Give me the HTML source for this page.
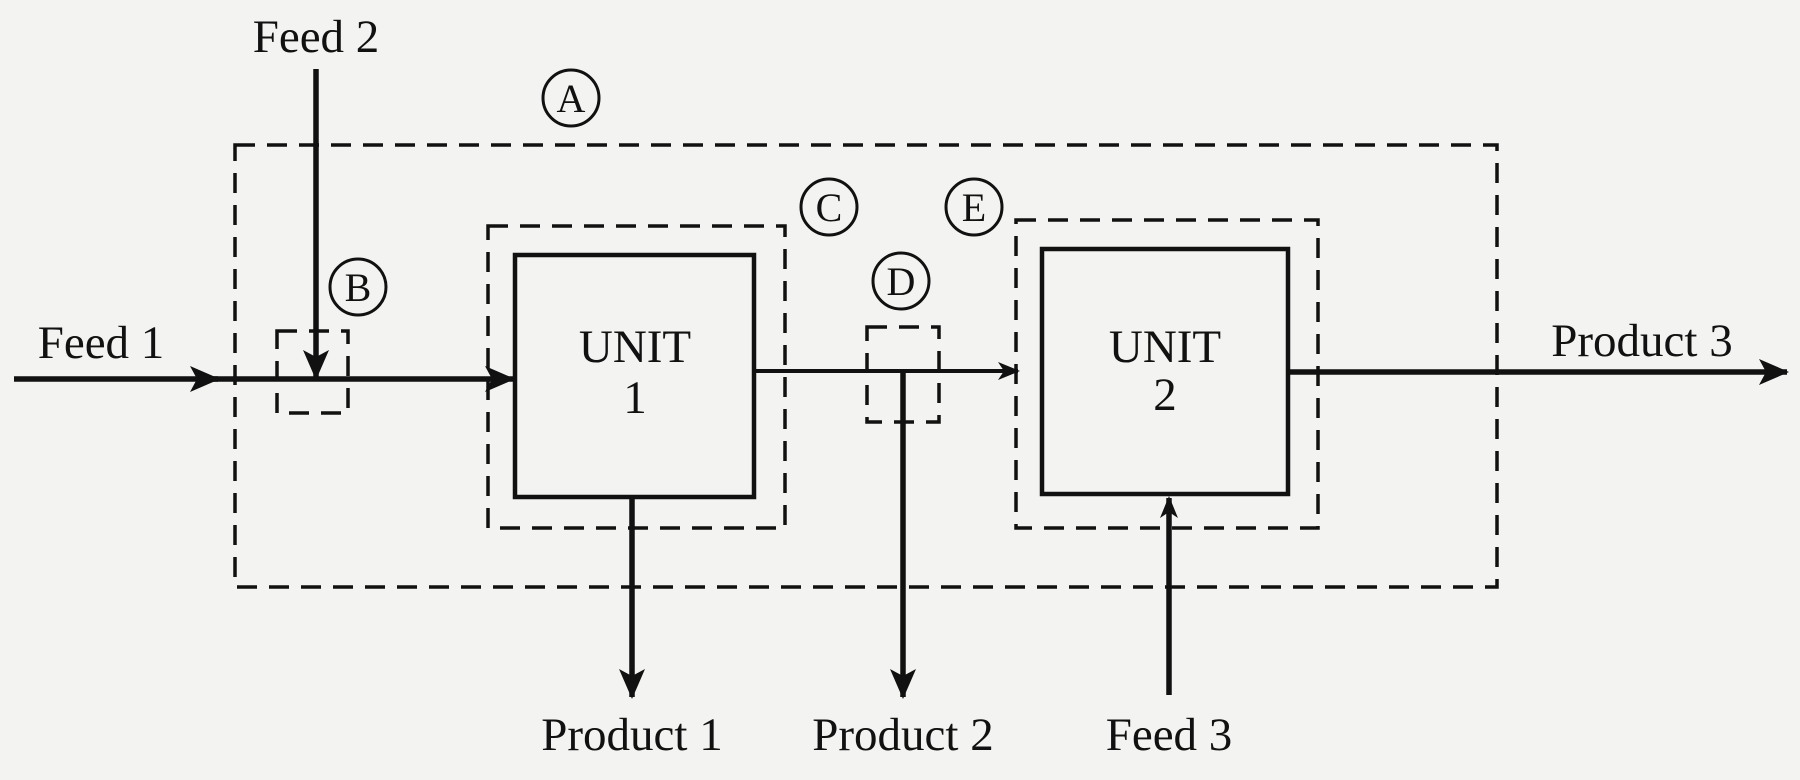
<!DOCTYPE html>
<html><head><meta charset="utf-8"><style>
html,body{margin:0;padding:0;background:#f3f3f1;}
svg{display:block}
text{font-family:"Liberation Serif",serif;fill:#111;}
</style></head><body>
<svg width="1800" height="780" viewBox="0 0 1800 780" xmlns="http://www.w3.org/2000/svg">
<defs>
<marker id="ah" viewBox="0 0 22 18" refX="20" refY="9" markerWidth="22" markerHeight="18" markerUnits="userSpaceOnUse" orient="auto">
<path d="M0,0 L22,9 L0,18 L6,9 Z" fill="#111"/>
</marker>
<marker id="ahL" viewBox="0 0 30 26" refX="28" refY="13" markerWidth="30" markerHeight="26" markerUnits="userSpaceOnUse" orient="auto">
<path d="M0,0 L30,13 L0,26 L7,13 Z" fill="#111"/>
</marker>
</defs>
<g fill="none" stroke="#111" stroke-width="3.5" stroke-dasharray="20 12">
<rect x="235" y="145" width="1262" height="442"/>
<rect x="277" y="331" width="71" height="82"/>
<rect x="488" y="226" width="297" height="302"/>
<rect x="867" y="327" width="72" height="95"/>
<rect x="1016" y="220" width="302" height="308"/>
</g>
<g fill="none" stroke="#111" stroke-width="4.5">
<rect x="515" y="255" width="239" height="242"/>
<rect x="1042" y="249" width="246" height="245"/>
</g>
<g stroke="#111" stroke-width="5.5" fill="none">
<line x1="14" y1="379" x2="218" y2="379" marker-end="url(#ahL)"/>
<line x1="210" y1="379" x2="513" y2="379" marker-end="url(#ahL)"/>
<line x1="316" y1="69" x2="316" y2="378" marker-end="url(#ahL)"/>
<line x1="754" y1="371" x2="1018" y2="371" stroke-width="4" marker-end="url(#ah)"/>
<line x1="1288" y1="372" x2="1787" y2="372" marker-end="url(#ahL)"/>
<line x1="632" y1="497" x2="632" y2="697" marker-end="url(#ahL)"/>
<line x1="903" y1="371" x2="903" y2="697" marker-end="url(#ahL)"/>
<line x1="1169" y1="695" x2="1169" y2="498" marker-end="url(#ah)"/>
</g>
<g fill="none" stroke="#111" stroke-width="3">
<circle cx="571" cy="98" r="28"/>
<circle cx="358" cy="287" r="28"/>
<circle cx="829" cy="207" r="28"/>
<circle cx="901" cy="281" r="28"/>
<circle cx="974" cy="207" r="28"/>
</g>
<g font-size="40" text-anchor="middle">
<text x="571" y="112">A</text>
<text x="358" y="301">B</text>
<text x="829" y="221">C</text>
<text x="901" y="295">D</text>
<text x="974" y="221">E</text>
</g>
<g font-size="47" text-anchor="middle">
<text x="316" y="52">Feed 2</text>
<text x="101" y="358">Feed 1</text>
<text x="635" y="362">UNIT</text>
<text x="635" y="413">1</text>
<text x="1165" y="362">UNIT</text>
<text x="1165" y="410">2</text>
<text x="1642" y="356">Product 3</text>
<text x="632" y="750">Product 1</text>
<text x="903" y="750">Product 2</text>
<text x="1169" y="750">Feed 3</text>
</g>
</svg>
</body></html>
